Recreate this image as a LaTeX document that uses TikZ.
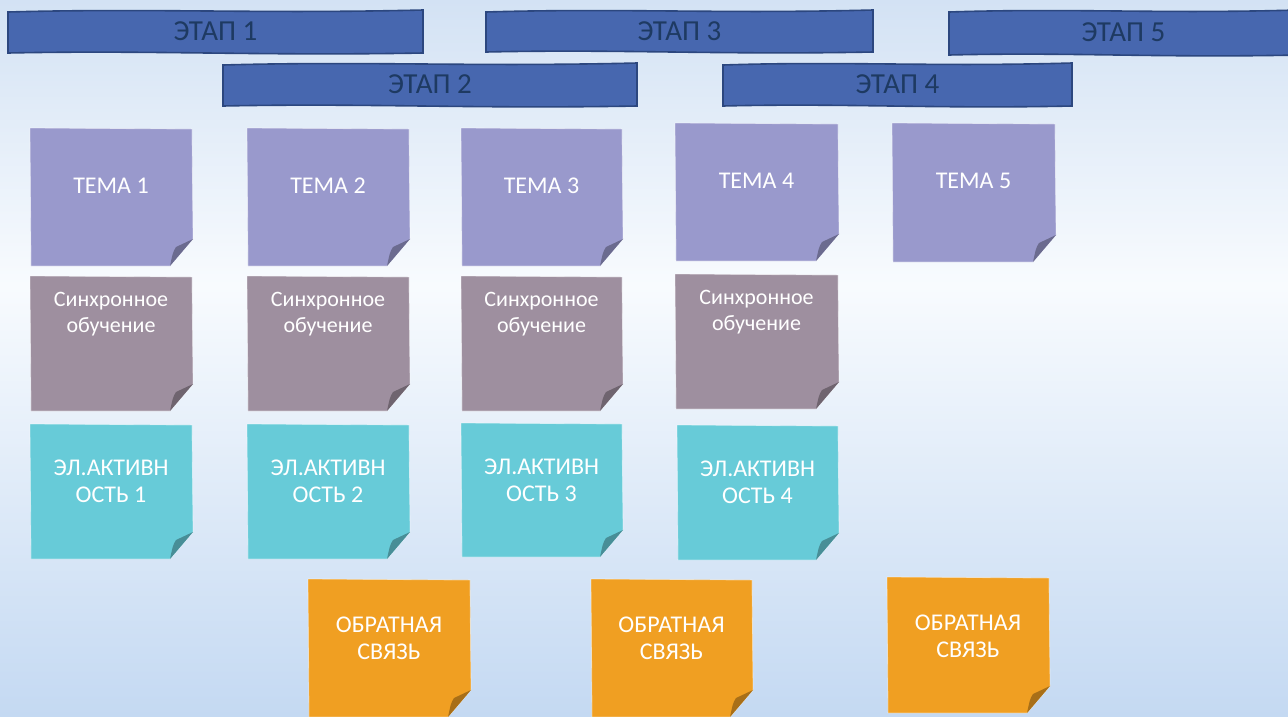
\documentclass[tikz,border=0pt]{standalone}
\usepackage{fontspec}
\setmainfont{Carlito}
\definecolor{bgtop}{HTML}{D3E2F4}
\definecolor{bgmid}{HTML}{F8FBFE}
\definecolor{bgbot}{HTML}{C4D9F2}
\definecolor{bannerfill}{HTML}{4767AF}
\definecolor{bannerline}{HTML}{2C477F}
\definecolor{bannertxt}{HTML}{1E3A62}
\definecolor{temac}{HTML}{9999CC}
\definecolor{syncc}{HTML}{9E8F9F}
\definecolor{actc}{HTML}{67CBD8}
\definecolor{obrc}{HTML}{F09F22}
\tikzset{
  bannerstyle/.style={fill=bannerfill, draw=bannerline, line width=1.6pt},
  bannertext/.style={text=bannertxt, font=\fontsize{29}{32}\selectfont, inner sep=0pt},
  stickytext/.style={text=white, align=center, font=\fontsize{24}{27}\selectfont, inner sep=0pt},
  synctext/.style={stickytext, font=\fontsize{22}{26}\selectfont},
}
\newcommand\banner[6]{%
  \path[bannerstyle] (#2,#3+2) .. controls ({#2+0.35*(#4-#2)},#3-2) and ({#2+0.6*(#4-#2)},#3+4) .. (#4,#3)
    -- (#4,#5) .. controls ({#2+0.6*(#4-#2)},#5+3) and ({#2+0.35*(#4-#2)},#5-3) .. (#2,#5) -- cycle;
  \node[bannertext] (#1) at ({(#2+#4)/2},{(#3+#5)/2}) {#6};
}
\newcommand\sticky[9][stickytext]{%
  \path[fill=#7, draw=white, draw opacity=0.45, line width=0.8pt]
    (#3,#4) -- (#5,#4+1) -- (#5+1,#6-27) -- (#5-22,#6) -- (#3+1,#6) -- cycle;
  \fill[#7!70!black] (#5+1,#6-27) -- (#5-16,#6-19) .. controls (#5-19,#6-14) .. (#5-22,#6) -- cycle;
  \node[#1] (#2) at ({(#3+#5)/2},#8) {#9};
}
\begin{document}
\begin{tikzpicture}[x=1pt,y=-1pt]
\useasboundingbox (0,0) rectangle (1288,716);
\clip (0,0) rectangle (1288,716);
\shade[top color=bgtop, bottom color=bgmid] (0,0) rectangle (1288,285);
\shade[top color=bgmid, bottom color=bgbot] (0,285) rectangle (1288,716);

\banner{e1}{8}{10}{423}{53}{ЭТАП 1}
\banner{e3}{486}{10}{873}{52}{ЭТАП 3}
\banner{e5}{949}{10}{1298}{55}{ЭТАП 5}
\banner{e2}{223}{63}{637}{106}{ЭТАП 2}
\banner{e4}{723}{63}{1072}{106}{ЭТАП 4}

\sticky{t1}{30}{128}{192}{266}{temac}{186}{ТЕМА 1}
\sticky{t2}{247}{128}{409}{266}{temac}{186}{ТЕМА 2}
\sticky{t3}{461}{128}{622}{266}{temac}{186}{ТЕМА 3}
\sticky{t4}{675}{123}{838}{261}{temac}{181}{ТЕМА 4}
\sticky{t5}{892}{123}{1055}{262}{temac}{181}{ТЕМА 5}

\sticky[synctext]{s1}{30}{276}{192}{411}{syncc}{314}{Синхронное\\обучение}
\sticky[synctext]{s2}{247}{276}{409}{411}{syncc}{314}{Синхронное\\обучение}
\sticky[synctext]{s3}{461}{276}{622}{411}{syncc}{314}{Синхронное\\обучение}
\sticky[synctext]{s4}{675}{274}{838}{409}{syncc}{312}{Синхронное\\обучение}

\sticky{a1}{30}{424}{192}{559}{actc}{481}{ЭЛ.АКТИВН\\ОСТЬ 1}
\sticky{a2}{247}{424}{409}{559}{actc}{481}{ЭЛ.АКТИВН\\ОСТЬ 2}
\sticky{a3}{461}{423}{622}{557}{actc}{480}{ЭЛ.АКТИВН\\ОСТЬ 3}
\sticky{a4}{677}{425}{838}{560}{actc}{482}{ЭЛ.АКТИВН\\ОСТЬ 4}

\sticky{o1}{308}{579}{470}{717}{obrc}{638}{ОБРАТНАЯ\\СВЯЗЬ}
\sticky{o2}{591}{579}{752}{717}{obrc}{638}{ОБРАТНАЯ\\СВЯЗЬ}
\sticky{o3}{887}{577}{1049}{713}{obrc}{636}{ОБРАТНАЯ\\СВЯЗЬ}
\end{tikzpicture}
\end{document}
